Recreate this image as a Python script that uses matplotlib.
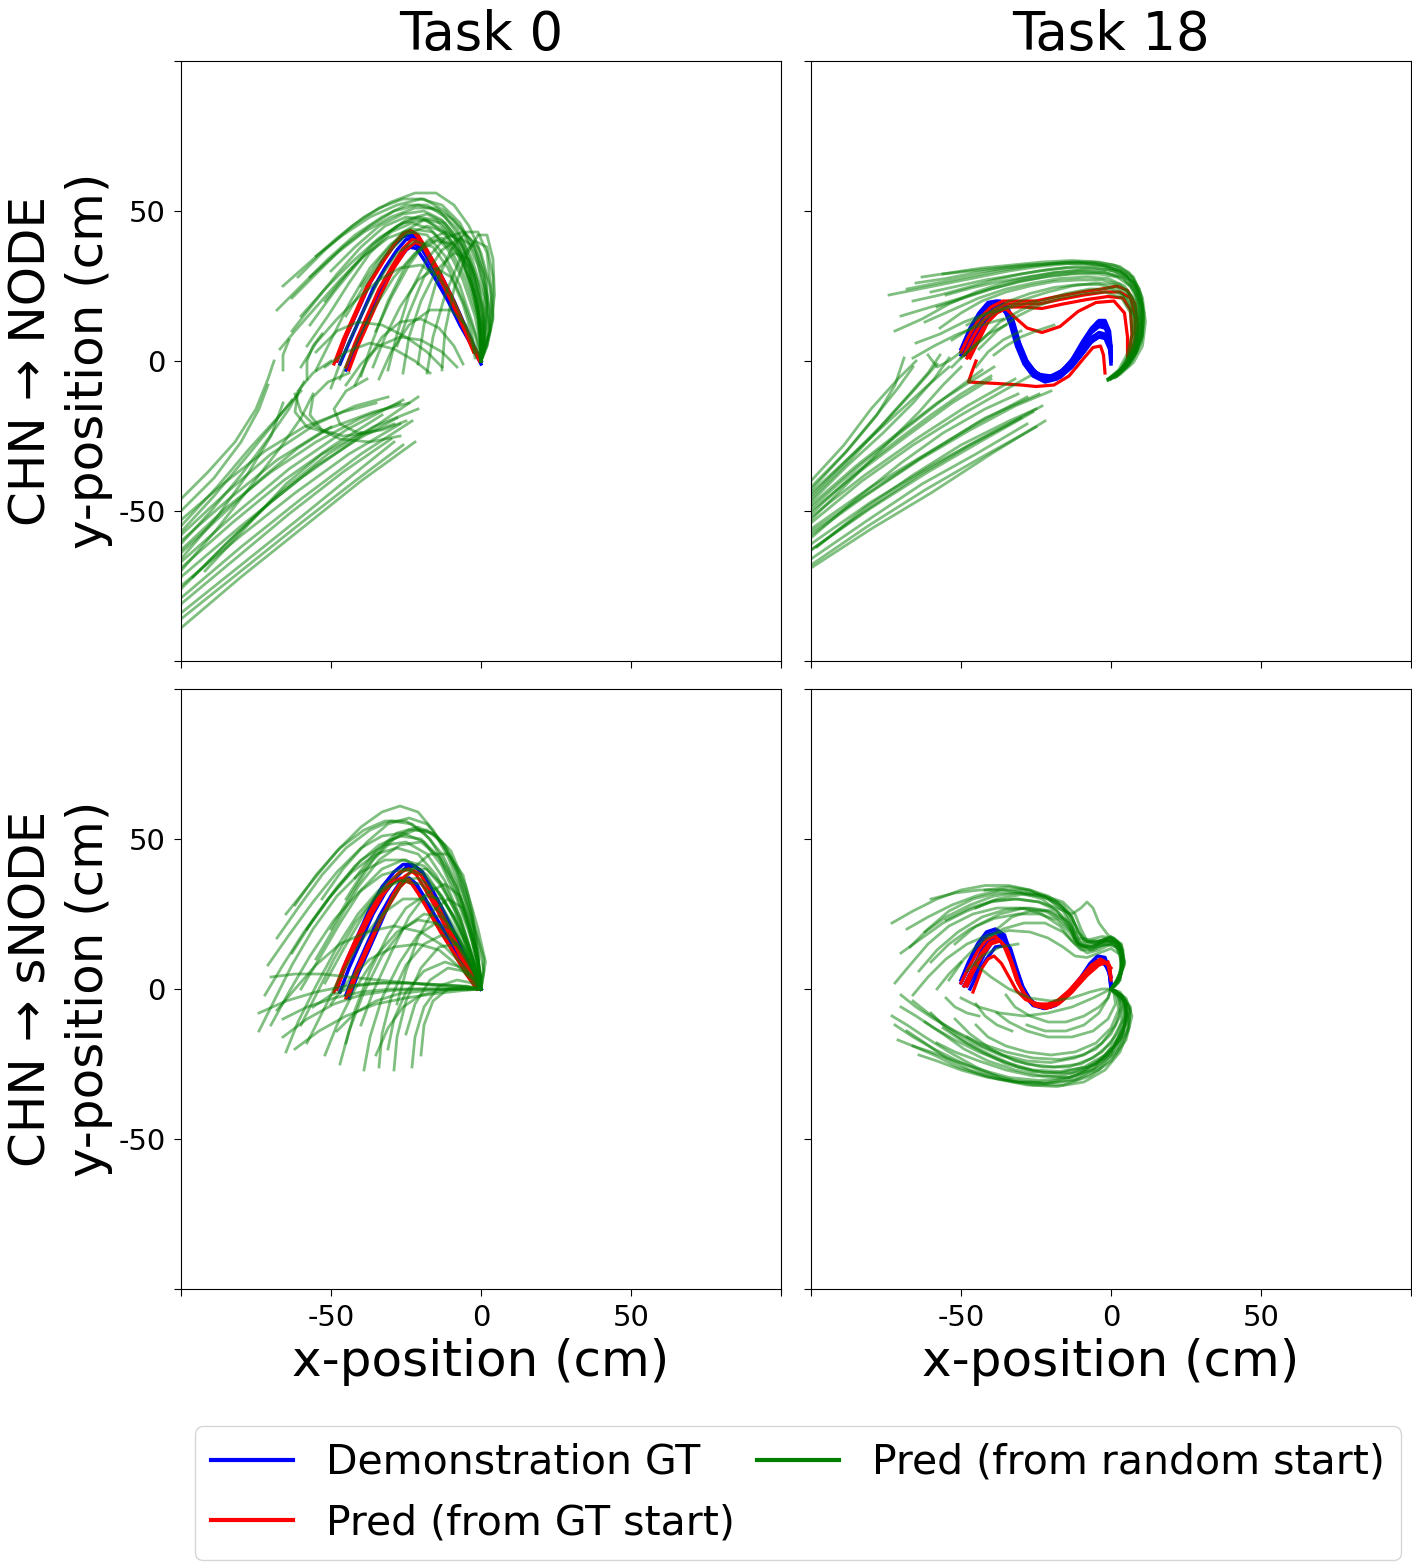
import numpy as np
import matplotlib.pyplot as plt
from matplotlib.lines import Line2D

plt.rcParams['axes.unicode_minus'] = False

# ---------------- Task 0, CHN -> NODE (top left) ----------------
tl_blue = [
    [(-47,-1),(-44,6),(-40,15),(-36,24),(-32,31),(-28,37),(-25,40.5),(-22.5,41),(-20,38.5),(-17,33),(-13,26),(-9,18),(-5,9),(-2,3),(0,0)],
    [(-45,-3),(-42,5),(-38,14),(-34,23),(-30,30),(-26.5,35.5),(-24,38),(-21.5,37.5),(-18.5,33),(-15,27),(-11,20),(-7,12),(-3,5),(0,-1)],
    [(-48,0),(-45,8),(-41,17),(-37,26),(-33,33),(-29,38.5),(-26,41.5),(-23,42),(-20,40),(-17,35),(-13,28),(-9,20),(-5,11),(-2,4),(0,0)],
    [(-44,-2),(-41,6),(-37,15),(-33,24),(-29,31.5),(-25,37),(-22,39),(-19.5,37),(-16.5,32),(-12.5,25),(-8.5,17),(-4.5,9),(-1.5,3),(0,0)],
]
tl_red = [
    [(-49,-1),(-46,7),(-42,16),(-38,25),(-33,33),(-29,39),(-26,42.5),(-23.5,43.5),(-21,42),(-18,37),(-14,30),(-10,22),(-6,13),(-3,6),(-1,1)],
    [(-44,-3),(-41,5),(-37,14),(-33,23),(-29,31),(-25,37),(-22,39.5),(-19.5,38.5),(-16.5,33),(-13,26),(-9,18),(-5,10),(-2,4),(0,0)],
    [(-48,0),(-45,8),(-41,17),(-37,26),(-32,34),(-28,40),(-25,43),(-22.5,43),(-20,40),(-16.5,33.5),(-12.5,26),(-8.5,17),(-5,9),(-2.5,3)],
    [(-45,-2),(-42,6),(-38,15),(-34,24),(-30,31),(-26,37.5),(-23,40.5),(-20.5,40),(-17.5,35.5),(-14,28.5),(-10,20.5),(-6,12),(-3,5),(-0.5,0)],
]
tl_green = [
    [(-66,25),(-57,33),(-48,41),(-39,48),(-30,53),(-22,56),(-15,56),(-9,52),(-4,45),(0,36),(3,25),(4,14),(2,5),(0,0)],
    [(-68,17),(-60,25),(-51,34),(-42,42),(-33,48),(-25,52),(-18,52),(-12,48),(-6,40),(-2,29),(1,17),(1,7),(0,0)],
    [(-63,21),(-55,29),(-46,38),(-37,45),(-29,50),(-21,52),(-14,50),(-8,44),(-3,34),(1,21),(1,9),(0,0)],
    [(-63,10),(-56,19),(-48,29),(-40,38),(-32,45),(-25,48),(-18,47),(-12,42),(-6,33),(-2,21),(0,9),(0,0)],
    [(-58,5),(-51,15),(-44,26),(-37,36),(-30,43),(-23,46),(-17,44),(-11,37),(-6,27),(-2,15),(0,5),(0,0)],
    [(-55,-3),(-50,7),(-44,19),(-37,31),(-30,39),(-24,43),(-18,42),(-12,35),(-7,25),(-3,13),(0,3)],
    [(-50,-9),(-46,2),(-40,15),(-34,27),(-28,36),(-22,40),(-16,38),(-11,31),(-6,20),(-2,9),(0,0)],
    [(-40,-5),(-36,7),(-31,20),(-25,32),(-19,39),(-13,41),(-8,36),(-4,27),(-1,15),(0,5),(0,0)],
    [(-31,-3),(-28,9),(-24,22),(-18,34),(-12,41),(-6,43),(-1,38),(2,27),(2,14),(1,5),(0,0)],
    [(-21,-1),(-19,12),(-15,26),(-10,37),(-5,43),(-1,43),(2,36),(3.5,22),(2.5,9),(0,0)],
    [(-13,-3),(-12,10),(-9,24),(-5,35),(-1,42),(2,42),(4,34),(4.5,22),(3,10),(0,0)],
    [(-57,12),(-49,23),(-40,34),(-32,42),(-25,47),(-18,49),(-12,46),(-6,38),(-2,27),(0,14),(0,0)],
    [(-61,28),(-52,37),(-43,45),(-34,51),(-26,54),(-19,54),(-12,50),(-6,43),(-1,32),(2,19),(1,7),(0,0)],
    [(-47,-6),(-42,5),(-36,17),(-29,28),(-22,36),(-15,40),(-9,39),(-4,31),(-1,18),(0,6)],
    [(-60,-2),(-55,6),(-48,14),(-41,21),(-34,27),(-27,31),(-20,32),(-14,28),(-9,20),(-5,11),(-2,3)],
    [(-55,3),(-48,10),(-41,13),(-33,12),(-25,8),(-18,3),(-13,-2)],
    [(-52,-2),(-45,3),(-37,6),(-29,4),(-22,0),(-17,-4)],
    [(-45,-8),(-40,-1),(-34,5),(-27,8),(-20,7),(-13,3),(-8,-2)],
    [(-36,-2),(-32,8),(-27,18),(-21,27),(-15,31),(-10,28),(-6,19),(-3,9),(-2,1)],
    [(-26,-4),(-24,8),(-20,20),(-15,30),(-9,36),(-4,34),(-1,26),(1,14),(0,4)],
    [(-67,4),(-62,10),(-55,18),(-47,27),(-39,35),(-31,41),(-23,44),(-16,43),(-10,37),(-5,27),(-1,14),(0,0)],
    [(-57,28),(-48,36),(-39,43),(-30,48),(-22,51),(-15,51),(-9,47),(-3,40),(1,29),(3,16),(2,6),(0,0)],
    [(-34,-6),(-30,3),(-24,12),(-17,17),(-10,17),(-5,12),(-2,5),(0,0)],
    [(-66,-3),(-66,2),(-64,7)],
    [(-58,-6),(-58,0),(-56,5),(-53,9)],
    [(-50,30),(-42,38),(-34,45),(-26,49),(-19,50),(-13,47),(-7,40),(-3,30),(0,18),(1,7),(0,0)],
    [(-45,15),(-39,25),(-32,35),(-25,42),(-18,45),(-12,43),(-7,36),(-3,25),(0,12),(0,0)],
    [(-40,25),(-33,35),(-26,43),(-19,47),(-13,46),(-8,40),(-4,30),(-1,18),(0,6),(0,0)],
    [(-52,20),(-44,30),(-36,39),(-28,45),(-21,48),(-15,47),(-9,41),(-4,31),(-1,19),(0,7),(0,0)],
    [(-35,10),(-30,21),(-24,32),(-18,40),(-12,43),(-7,40),(-3,31),(0,19),(1,8),(0,0)],
    [(-60,15),(-52,24),(-43,33),(-34,41),(-26,46),(-19,47),(-13,44),(-7,36),(-3,25),(0,12),(0,0)],
    [(-28,5),(-24,16),(-19,28),(-13,37),(-7,41),(-2,38),(1,28),(2,15),(1,5),(0,0)],
    [(-55,35),(-46,42),(-37,48),(-28,52),(-20,54),(-13,52),(-7,46),(-2,36),(2,22),(3,10),(0,0)],
    [(-18,-4),(-16,8),(-12,22),(-7,34),(-2,40),(2,38),(4,28),(4,15),(2,5),(0,0)],
    [(-42,-8),(-38,0),(-33,8),(-27,13),(-20,14),(-14,11),(-9,5),(-6,-1)],
    # lower-left fan
    [(-100,-89),(-80,-72),(-60,-56),(-40,-40),(-22,-27)],
    [(-100,-84),(-80,-68),(-60,-52),(-44,-39),(-29,-27)],
    [(-100,-79),(-80,-62),(-60,-46),(-40,-31),(-23,-20)],
    [(-100,-72),(-80,-55),(-60,-39),(-40,-25),(-21,-12)],
    [(-100,-67),(-82,-51),(-64,-36),(-45,-23),(-26,-13)],
    [(-100,-63),(-85,-49),(-70,-37),(-55,-27),(-40,-19),(-27,-14)],
    [(-100,-58),(-85,-44),(-70,-31),(-55,-21),(-42,-15),(-31,-12)],
    [(-100,-55),(-88,-42),(-77,-29),(-67,-18),(-60,-10)],
    [(-100,-50),(-89,-39),(-80,-27),(-74,-16),(-71,-8)],
    [(-100,-46),(-91,-37),(-82,-27),(-75,-16),(-71,-6),(-69,0)],
    [(-100,-70),(-88,-56),(-77,-42),(-67,-29),(-60,-19),(-56,-11)],
    [(-100,-61),(-90,-50),(-80,-38),(-71,-26),(-64,-16),(-59,-7)],
    [(-96,-72),(-81,-57),(-66,-43),(-51,-31),(-36,-22),(-21,-16)],
    [(-100,-76),(-85,-61),(-70,-47),(-55,-35),(-41,-26),(-28,-19)],
    [(-92,-70),(-78,-55),(-65,-41),(-53,-31),(-40,-24)],
    [(-100,-53),(-86,-41),(-72,-30),(-59,-22),(-46,-17),(-35,-14)],
    [(-100,-66),(-88,-52),(-78,-38),(-70,-25),(-66,-14)],
    [(-100,-60),(-84,-46),(-68,-33),(-52,-23),(-36,-17),(-24,-14)],
    [(-100,-86),(-80,-70),(-60,-54),(-42,-40),(-26,-28)],
    [(-100,-81),(-82,-66),(-64,-51),(-46,-37),(-30,-26)],
    [(-100,-75),(-81,-59),(-62,-44),(-44,-31),(-27,-21)],
    [(-100,-69),(-83,-54),(-66,-40),(-49,-28),(-33,-18)],
    [(-100,-64),(-86,-51),(-73,-39),(-61,-29),(-50,-22)],
    [(-100,-57),(-89,-45),(-79,-33),(-70,-22),(-63,-13)],
    [(-44,-4),(-51,-7),(-56,-12),(-57,-18),(-53,-23),(-46,-25),(-37,-24),(-29,-21)],
    [(-38,-6),(-45,-10),(-49,-16),(-47,-21),(-41,-24),(-33,-23),(-25,-20)],
    [(-50,0),(-56,-4),(-61,-10),(-62,-17),(-58,-22),(-51,-24)],
    [(-62,-11),(-60,-17),(-55,-22),(-47,-26),(-37,-27),(-27,-25)],
]

# ---------------- Task 18, CHN -> NODE (top right) ----------------
tr_blue = [
    [(-50,3),(-47,9),(-44,14),(-41,18),(-38,19.5),(-35.5,18),(-33.5,13),(-31.5,6),(-29,0),(-26,-4),(-22,-6),(-18,-5),(-14,-1),(-10,5),(-7,10),(-4.5,13),(-2.5,13),(-1,10),(0,4),(0,0)],
    [(-49,3),(-46,10),(-43,15),(-40,19),(-37,19.5),(-34.5,17),(-32.5,11),(-30.5,4),(-28,-1.5),(-25,-5),(-21,-6.5),(-17,-5),(-13,-0.5),(-9.5,5),(-6.5,9.5),(-4,11.5),(-2,11),(-0.5,8),(0,3)],
    [(-48,2),(-45,8),(-42,13.5),(-39,17),(-36.5,17.5),(-34,15),(-32,9),(-30,3),(-27,-2),(-24,-4.5),(-20,-5),(-16,-3),(-12,1.5),(-8.5,7),(-5.5,11),(-3,12.5),(-1.5,11),(-0.5,7),(0,1)],
    [(-50,4),(-47,11),(-44,16),(-41,19.5),(-38,20),(-35,18.5),(-33,14),(-31,7),(-28.5,0.5),(-25.5,-3.5),(-22,-5.5),(-18,-4.5),(-14,-1),(-10,3.5),(-7,7.5),(-4,9.5),(-2,9),(-0.5,6),(0,1)],
    [(-49,2),(-46,7),(-43,12),(-40,16.5),(-37,18),(-34.5,16.5),(-32.5,12),(-30.5,5),(-28,-0.5),(-25,-4.5),(-21,-6),(-17,-5.5),(-13,-2),(-9,3),(-6,7),(-3.5,8.5),(-1.5,8),(0,5),(0,0)],
    [(-50,2),(-47,8),(-44,13),(-41,17),(-38,18.5),(-35.5,17),(-33.5,12),(-31.5,5),(-29,-1),(-26,-5),(-22,-7),(-18,-6),(-14,-2.5),(-10,2),(-7,6),(-4,8),(-2,7.5),(-0.5,4),(0,-1)],
    [(-49,4),(-46,11),(-43,16.5),(-40,19.5),(-37,20),(-34.5,18),(-32.5,13),(-30.5,6),(-28,0),(-25,-4),(-21,-5.5),(-17,-4),(-13,0.5),(-9.5,6.5),(-6.5,11),(-4,13.5),(-2,13.5),(-0.5,10),(0,5)],
]
tr_red = [
    [(-50,3),(-47,9),(-44,14),(-40,18),(-36,20),(-31,20),(-25,20),(-18,21.5),(-10,23),(-3,24),(2,25),(5.5,23.5),(8,19),(9,12),(8.5,5),(7,1)],
    [(-49,2),(-46,8),(-43,13),(-39,17),(-35,19),(-30,19),(-24,19),(-17,20.5),(-9,22),(-2,23),(3,23),(6.5,21),(8,15),(8,7),(6.5,1)],
    [(-48,1),(-45,7),(-42,12),(-38,16),(-34,18),(-29,18),(-23,17.5),(-16,19),(-8,20.5),(-1,21.5),(4,21),(6.5,17),(7,9),(6,2)],
    [(-47,1),(-44,7),(-41,13),(-38,17),(-35,17.5),(-32,14.5),(-28,11),(-23,9.5),(-17,11.5),(-11,16.5),(-5,19.5),(1,20),(4.5,16),(5.5,8),(5.5,1)],
    [(-45,0),(-46.5,-4),(-47.5,-7),(-38,-7.5),(-30,-8),(-25,-8.5),(-19,-8),(-14,-5),(-9,1),(-6,4.5),(-3.5,5),(-2.5,2),(-2,-4)],
]
tr_green = [
    [(-74,22),(-64,24),(-54,26),(-44,28),(-34,30),(-24,31.5),(-14,32.5),(-5,32.5),(2,31),(7,28),(10,22),(11,14),(10,6),(7,0),(3,-4),(-1,-6)],
    [(-65,26),(-55,27.5),(-45,29.5),(-35,31),(-25,32),(-15,33),(-6,33),(1,32),(6,29.5),(9.5,24),(11,16),(10.5,8),(8,2),(4,-3),(0,-6)],
    [(-56,29),(-47,30),(-38,31),(-29,32),(-20,32.5),(-11,33),(-3,32),(3,30),(7.5,26),(10,19),(10,11),(8.5,4),(5,-2),(1,-5.5)],
    [(-70,15),(-60,18),(-50,21),(-40,24),(-30,26.5),(-20,28.5),(-10,29.5),(-2,29.5),(4,27.5),(8,23),(9.5,16),(9,8),(7,2),(3,-3),(-1,-6)],
    [(-62,13),(-53,17),(-44,21),(-35,24),(-26,26),(-17,27.5),(-8,28),(-1,27.5),(4.5,25),(8,20),(9,12),(8,5),(5,-1),(1,-5)],
    [(-53,7),(-45,12),(-37,17),(-29,20.5),(-21,23),(-13,25),(-5,26),(1,25.5),(5.5,22.5),(8,17),(8.5,9),(7,3),(4,-2),(0,-5.5)],
    [(-50,1),(-43,7),(-37,13),(-30,17),(-23,20),(-15,22.5),(-7,24),(0,24),(5,21),(7.5,15),(7.5,8),(6,2),(3,-3),(-0.5,-6)],
    [(-72,10),(-63,14),(-54,19),(-45,23),(-36,26),(-27,28),(-18,29.5),(-9,30.5),(-1,30.5),(5,28.5),(9,23.5),(10.5,16),(10,8),(7.5,1.5),(3.5,-3.5),(-1,-6.5)],
    [(-66,20),(-57,22),(-48,24.5),(-39,27),(-30,29),(-21,30.5),(-12,31.5),(-3,31.5),(3,30),(8,26),(10.5,19),(10.5,11),(9,4),(6,-1.5),(1.5,-5.5)],
    [(-60,23),(-51,25),(-42,27),(-33,28.5),(-24,30),(-15,31),(-6,31),(1,30),(6,27),(9,21),(10,13),(9,5),(6,-0.5),(2,-5)],
    [(-57,11),(-50,16),(-43,20),(-35,23),(-27,25),(-19,26.5),(-11,27),(-3,27),(3,25.5),(7,21.5),(9,14.5),(8.5,6.5),(6,0.5),(2,-4.5)],
    [(-44,4),(-38,10),(-31,15),(-24,18.5),(-17,21),(-9,22.5),(-2,23),(3.5,21),(6.5,16),(7,9),(5.5,2.5),(2.5,-3),(-1,-6)],
    [(-68,24),(-58,26),(-48,28),(-38,30),(-28,31.5),(-18,32.5),(-9,32.5),(-1,31.5),(5,29),(8.5,24.5),(10.5,17),(10.5,9),(8.5,3),(5,-2),(0,-6)],
    [(-58,18),(-49,21),(-40,24),(-31,26.5),(-22,28),(-13,29),(-4,29),(2,28),(6.5,25),(9,19.5),(9.5,12),(8.5,5),(6,-0.5),(2,-5)],
    [(-48,12),(-41,16),(-34,20),(-27,22.5),(-19,24.5),(-11,25.5),(-4,25.5),(2,24),(6,20),(8,14),(8,7),(6,1.5),(3,-3.5),(-1,-6)],
    [(-63,28),(-53,29.5),(-43,31),(-33,32),(-23,33),(-13,33.5),(-4,33),(3,31.5),(7.5,28),(10.5,21),(11.5,13),(10.5,5),(7.5,-0.5),(3,-4.5),(-1,-6.5)],
    [(-55,22),(-46,24.5),(-37,26.5),(-28,28),(-19,29.5),(-10,30),(-2,29.5),(4,28),(8,24),(10,17.5),(10,10),(8.5,3),(5,-2),(1,-5.5)],
    [(-53,-2),(-47,4),(-41,9),(-35,12)],
    [(-66,1),(-59,5),(-51,9),(-43,12),(-36,14)],
    [(-65,6),(-57,9),(-49,13),(-41,16),(-33,18),(-25,20)],
    [(-45,-2),(-41,3),(-36,7),(-30,10)],
    [(-61,2),(-58,-2),(-54,0),(-50,3)],
    [(-39,2),(-35,5),(-30,8),(-25,10),(-19,12)],
    # lower-left fan
    [(-100,-69),(-80,-56),(-60,-44),(-40,-31),(-22,-20)],
    [(-100,-66),(-81,-53),(-63,-41),(-45,-31),(-28,-21)],
    [(-100,-61),(-80,-47),(-60,-35),(-40,-24),(-23,-15)],
    [(-100,-56),(-80,-42),(-60,-30),(-42,-19),(-24,-11)],
    [(-100,-52),(-82,-38),(-65,-26),(-48,-15),(-32,-6)],
    [(-100,-49),(-84,-35),(-69,-23),(-55,-12),(-43,-3)],
    [(-100,-46),(-87,-33),(-75,-20),(-65,-9),(-58,-1)],
    [(-100,-42),(-88,-30),(-78,-18),(-72,-8),(-69,1)],
    [(-100,-40),(-89,-28),(-80,-16),(-71,-6),(-65,0)],
    [(-100,-44),(-86,-31),(-73,-19),(-62,-9),(-54,-2)],
    [(-100,-48),(-85,-35),(-71,-24),(-58,-14),(-47,-7),(-39,-2)],
    [(-100,-54),(-83,-40),(-66,-28),(-50,-18),(-36,-10),(-27,-5)],
    [(-100,-58),(-82,-45),(-64,-33),(-47,-23),(-32,-15),(-20,-10)],
    [(-100,-63),(-82,-50),(-64,-38),(-47,-28),(-30,-19)],
    [(-100,-51),(-86,-38),(-72,-27),(-60,-18),(-50,-11),(-40,-5)],
    [(-100,-45),(-88,-33),(-77,-22),(-68,-12),(-61,-4),(-57,2)],
    [(-100,-53),(-87,-40),(-75,-28),(-64,-17),(-56,-8),(-50,-2)],
    [(-100,-59),(-85,-46),(-70,-34),(-56,-24),(-42,-16),(-31,-11)],
    [(-98,-62),(-82,-49),(-66,-38),(-50,-28),(-34,-20),(-25,-16)],
    [(-100,-47),(-88,-35),(-76,-24),(-66,-14),(-59,-6),(-54,1)],
    [(-100,-68),(-81,-55),(-62,-43),(-43,-32),(-25,-22)],
    [(-100,-63),(-80,-49),(-61,-37),(-42,-26),(-26,-17)],
    [(-100,-57),(-81,-44),(-63,-32),(-45,-21),(-28,-12)],
    [(-100,-50),(-84,-37),(-68,-25),(-53,-14),(-40,-6)],
    [(-100,-43),(-89,-31),(-79,-19),(-71,-9),(-66,-2)],
]

# ---------------- Task 0, CHN -> sNODE (bottom left) ----------------
bl_blue = [
    [(-47,-1),(-44,7),(-40,16),(-36,25),(-32,32),(-28,37.5),(-25,40.5),(-22,41),(-19.5,39),(-16.5,33.5),(-13,27),(-9,19),(-5,10),(-2,4),(0,0)],
    [(-44,-3),(-41,5),(-37,14),(-33,23),(-30,30),(-27,35),(-25,37),(-23,36),(-20,31),(-16,25),(-12,18),(-8,11),(-4,5),(0,0)],
    [(-48,0),(-45,9),(-41,18),(-37,27),(-33,34),(-29,39),(-26,41.5),(-23,41.5),(-20.5,39.5),(-17.5,34),(-14,27.5),(-10,20),(-6,11),(-2.5,4),(0,0)],
    [(-45,-2),(-42,6),(-38,15),(-34,24),(-30,31),(-27,35.5),(-24,37),(-21.5,35),(-18.5,30),(-14.5,23),(-10,16),(-6,9),(-2,3),(0,0)],
]
bl_red = [
    [(-49,-1),(-46,7),(-42,16),(-38,24),(-34,31),(-30,36),(-27,39),(-24,40),(-21.5,38),(-18.5,33),(-15,27),(-11,19),(-7,11),(-3,4),(0,0)],
    [(-45,-3),(-42,5),(-38,14),(-34,22),(-30,29),(-27,34),(-25,36),(-23,35),(-20,30.5),(-16.5,24.5),(-12,17),(-8,10),(-4,4),(-1,0)],
    [(-48,0),(-45,8),(-41,16),(-37,24),(-33,31),(-29.5,35.5),(-26.5,37),(-24,36.5),(-21,32),(-17.5,26),(-13.5,19),(-9,12),(-5,5),(-1.5,0)],
    [(-44,-2),(-41,6),(-37,15),(-33,24),(-29,32),(-25.5,37.5),(-22.5,39.5),(-20,38),(-17,32.5),(-13.5,26),(-9.5,18),(-5.5,10),(-2,3)],
]
bl_green = [
    [(-65,25),(-57,35),(-48,46),(-40,54),(-33,59),(-27,61),(-21,59),(-16,53),(-11,44),(-6,32),(-2,20),(1,10),(0,0)],
    [(-68,17),(-61,27),(-53,38),(-45,47),(-37,53),(-30,56),(-23,55),(-17,50),(-11,40),(-6,28),(-2,15),(0,4)],
    [(-71,8),(-64,18),(-56,29),(-48,39),(-40,47),(-33,51),(-26,52),(-19,49),(-13,41),(-8,30),(-3,16),(0,4)],
    [(-72,-2),(-66,8),(-59,19),(-51,30),(-43,39),(-35,45),(-28,47),(-21,45),(-15,38),(-9,27),(-4,14),(0,2)],
    [(-74,-14),(-69,-4),(-63,8),(-56,20),(-48,31),(-40,39),(-32,43),(-25,43),(-18,38),(-12,29),(-6,17),(-2,6),(0,0)],
    [(-65,-21),(-61,-11),(-55,1),(-48,14),(-41,25),(-34,33),(-27,36),(-20,35),(-14,29),(-8,19),(-3,8),(0,1)],
    [(-60,-12),(-55,-2),(-49,10),(-42,22),(-35,31),(-28,36),(-21,37),(-15,33),(-9,24),(-4,13),(0,3)],
    [(-55,10),(-48,22),(-41,34),(-34,43),(-27,48),(-20,49),(-14,44),(-8,34),(-4,20),(-1,8),(0,0)],
    [(-50,20),(-43,32),(-36,43),(-29,50),(-22,53),(-16,52),(-10,46),(-5,34),(-1,20),(1.5,9),(0,0)],
    [(-45,-18),(-42,-7),(-37,6),(-31,18),(-25,27),(-19,31),(-13,30),(-8,23),(-4,13),(-1,4)],
    [(-39,-27),(-37,-16),(-33,-3),(-27,9),(-21,18),(-15,22),(-10,20),(-5,13),(-2,5),(0,0)],
    [(-29,-27),(-28,-16),(-25,-4),(-20,7),(-14,14),(-8,15),(-4,10),(-1,4),(0,0)],
    [(-23,-26),(-22,-16),(-19,-6),(-14,1),(-8,3),(-3,2),(0,0)],
    [(-56,-6),(-50,-2),(-42,1),(-33,2),(-24,2),(-15,1.5),(-7,1),(0,0)],
    [(-66,-10),(-58,-6),(-49,-3),(-40,-1),(-30,0),(-20,0),(-10,0),(0,0)],
    [(-70,4),(-62,5),(-53,5),(-44,4),(-34,3),(-24,2),(-14,1),(-5,0.5),(0,0)],
    [(-48,-14),(-42,-8),(-35,-4),(-27,-1.5),(-18,-0.5),(-9,0),(0,0)],
    [(-35,-22),(-31,-13),(-26,-6),(-20,-2),(-13,-0.5),(-6,0),(0,0)],
    [(-62,28),(-55,38),(-47,47),(-39,53),(-32,56),(-25,56),(-19,52),(-13,45),(-8,35),(-4,22),(-1,9),(0,0)],
    [(-58,-18),(-53,-8),(-47,4),(-40,16),(-33,25),(-26,30),(-19,30),(-13,25),(-7,16),(-3,7),(0,0)],
    [(-52,-22),(-48,-12),(-42,0),(-35,11),(-28,19),(-21,23),(-15,22),(-9,16),(-4,8),(0,1)],
    [(-40,-12),(-36,-1),(-30,12),(-24,24),(-18,32),(-12,35),(-7,31),(-3,21),(-1,10),(0,2)],
    [(-45,30),(-38,41),(-31,49),(-24,53),(-18,53),(-12,48),(-7,38),(-3,24),(-1,11),(0,0)],
    [(-35,20),(-29,31),(-23,40),(-17,45),(-11,45),(-6,38),(-3,26),(-1,12),(0,0)],
    [(-28,-5),(-25,6),(-21,17),(-16,26),(-11,30),(-6,27),(-3,18),(-1,8),(0,0)],
    [(-60,0),(-54,10),(-47,22),(-40,33),(-33,40),(-26,43),(-19,41),(-13,34),(-7,23),(-3,11),(0,2)],
    [(-62,-20),(-54,-14),(-45,-9),(-35,-5),(-25,-3),(-15,-1.5),(-6,-0.5),(0,0)],
    [(-68,-7),(-62,0),(-55,8),(-47,15),(-38,19),(-29,21),(-20,19),(-12,14),(-6,8),(-2,3),(0,0)],
    [(-50,-5),(-44,3),(-37,10),(-29,14),(-21,15),(-14,13),(-8,8),(-3,3),(0,0)],
    [(-31,-20),(-29,-10),(-25,-1),(-19,6),(-12,9),(-6,7),(-2,3),(0,0)],
    [(-42,37),(-35,46),(-28,52),(-21,54),(-15,51),(-10,44),(-5,32),(-1,16),(1,6),(0,0)],
    [(-20,-22),(-19,-12),(-16,-4),(-11,0),(-5,1),(0,0)],
    [(-58,20),(-50,31),(-42,41),(-34,48),(-27,51),(-20,50),(-14,44),(-9,34),(-4,20),(-1,8),(0,0)],
    [(-63,12),(-56,23),(-48,34),(-40,43),(-32,48),(-25,49),(-18,45),(-12,36),(-7,24),(-3,11),(0,0)],
    [(-52,2),(-46,13),(-39,25),(-32,35),(-25,40),(-18,40),(-12,34),(-7,24),(-3,12),(0,2)],
    [(-70,-12),(-64,-1),(-57,11),(-49,23),(-41,32),(-33,38),(-26,40),(-19,38),(-13,31),(-7,20),(-3,9),(0,0)],
    [(-47,-25),(-44,-14),(-39,-1),(-33,11),(-26,20),(-19,25),(-13,24),(-8,18),(-4,10),(0,2)],
    [(-34,-26),(-33,-15),(-30,-3),(-25,8),(-19,15),(-13,18),(-8,15),(-4,9),(-1,3),(0,0)],
    [(-66,-16),(-58,-10),(-49,-5),(-40,-2),(-30,-0.5),(-20,0),(-10,0),(0,0)],
    [(-74,-8),(-65,-4),(-55,-1),(-45,1),(-35,2),(-25,2),(-15,1.5),(-6,1),(0,0)],
    [(-25,-15),(-22,-5),(-17,3),(-11,7),(-6,6),(-2,3),(0,0)],
    [(-53,30),(-46,40),(-38,49),(-31,55),(-24,57),(-18,55),(-13,49),(-8,39),(-4,25),(-1,11),(0,0)],
]

# ---------------- Task 18, CHN -> sNODE (bottom right) ----------------
br_blue = [
    [(-50,2),(-47,8),(-44,14),(-41,18),(-38,19),(-35.5,16.5),(-33,10),(-31,3),(-29,-2),(-26,-5.5),(-22,-6.5),(-18,-5),(-14,-1),(-10,4),(-7,8.5),(-4.5,11),(-2,10.5),(-0.5,6),(0,0)],
    [(-49,1),(-46,7),(-43,13),(-40,17),(-37,18),(-34.5,15),(-32.5,9),(-30.5,2.5),(-28,-2.5),(-25,-5.5),(-21,-6),(-17,-4),(-13,0),(-9.5,4.5),(-6.5,8),(-4,9.5),(-1.5,9),(0,4)],
    [(-48,1),(-45,6),(-42,12),(-39,16.5),(-36,17),(-33.5,13.5),(-31.5,7),(-29.5,1),(-27,-3.5),(-24,-6),(-20,-6),(-16,-3.5),(-12,0.5),(-8.5,5),(-5.5,8),(-3,9),(-1,7),(0,2)],
    [(-50,3),(-47.5,9),(-44.5,15),(-41.5,19),(-38.5,20),(-35.5,18),(-33.5,12),(-31.5,5),(-29.5,-0.5),(-26.5,-4.5),(-22.5,-6.5),(-18.5,-5.5),(-14.5,-2),(-10.5,3),(-7.5,7),(-5,9.5),(-2.5,9.5),(-0.5,5),(0,0)],
    [(-47,0),(-44.5,5),(-41.5,10),(-38.5,14),(-35.5,14.5),(-33,11),(-31,5),(-29,-0.5),(-26.5,-4),(-23.5,-6),(-19.5,-5.5),(-15.5,-3),(-11.5,1),(-8,5.5),(-5,8.5),(-2.5,9.5),(-0.5,7),(0,1)],
]
br_red = [
    [(-50,2),(-47.5,7),(-44.5,12.5),(-41.5,16.5),(-38.5,17.5),(-36,15),(-33.5,9),(-31.5,3),(-29,-1.5),(-26,-4.5),(-22,-5.5),(-18,-4),(-14,-0.5),(-10,4),(-6.5,8),(-3.5,10),(-1,8),(0,3)],
    [(-48,1),(-46,5.5),(-43,11),(-40,15),(-37,16),(-34.5,13),(-32.5,7.5),(-30.5,1.5),(-28,-3),(-25,-5.5),(-21,-6),(-17,-4.5),(-13,-1),(-9,3.5),(-5.5,7.5),(-2.5,9.5),(0,7)],
    [(-46,-1),(-44.5,3),(-43,7),(-41,10),(-39,11),(-36.5,8.5),(-34,4),(-31.5,-0.5),(-28.5,-3.5),(-25,-5),(-21,-5),(-17,-3.5),(-12.5,0),(-8,4.5),(-4,8),(-1,9)],
    [(-49,1),(-46.5,6),(-43.5,11.5),(-40.5,15.5),(-37.5,16.5),(-35,14),(-33,8.5),(-31,2),(-28.5,-2.5),(-25.5,-5.5),(-21.5,-6.5),(-17.5,-5),(-13.5,-1.5),(-9.5,3),(-6,7),(-3,9.5),(-0.5,8),(0,4)],
]
br_green = [
    [(-73,22),(-66,26),(-58,30),(-50,33),(-42,34.5),(-34,34.5),(-27,33),(-21,30),(-16,26),(-13,21),(-11,17),(-7,16.5),(-3,17.5),(1,17),(4,13),(4,7),(2,2),(0,0)],
    [(-67,14),(-61,20),(-54,26),(-46,30),(-38,32),(-30,32),(-23,30),(-18,26),(-14,21),(-12,16),(-9,14),(-5,15),(-1,16),(3,14),(4,8),(2,3),(0,0)],
    [(-72,2),(-67,8),(-61,15),(-54,21),(-46,25),(-38,27),(-30,27),(-23,25),(-17,21),(-13,16),(-10,13),(-6,13),(-2,15),(2,14),(3.5,9),(2.5,3),(0,0)],
    [(-60,30),(-52,32),(-44,33),(-36,33),(-28,32),(-21,30),(-16,27),(-13,22),(-12,17),(-9,15),(-4,16),(0,17.5),(3.5,15),(4.5,9),(2.5,3),(0,0)],
    [(-54,3),(-49,10),(-43,16),(-36,20),(-29,22),(-22,22),(-16,19),(-12,15),(-8,12),(-4,13),(0,15),(3,13),(3.5,7),(1.5,2),(0,0)],
    [(-64,6),(-58,13),(-51,19),(-43,24),(-35,26.5),(-27,27),(-20,26),(-15,23),(-12,19),(-10,15),(-6,14),(-2,16),(2,16),(4,11),(3,4),(0,0)],
    [(-55,23),(-47,27),(-39,29.5),(-31,30),(-24,29),(-18,27),(-13,25),(-10,27),(-8,29),(-6,27),(-4,22),(-1,18),(2,16),(4,11),(3,4),(0,0)],
    [(-66,-2),(-61,4),(-55,10),(-48,15),(-41,18),(-34,19.5),(-27,19),(-21,17),(-16,14),(-12,11),(-8,10.5),(-4,12),(0,13.5),(3,11.5),(3.5,6),(1.5,1.5),(0,0)],
    [(-45,27),(-38,30),(-30,31.5),(-22,31),(-16,29),(-12,25),(-10,20),(-8,16),(-4,16),(0,17),(3,15),(4,10),(3,4),(0,0)],
    [(-38,20),(-33,24),(-27,26),(-21,26),(-16,23),(-13,19),(-11,15),(-7,14),(-3,15.5),(1,16),(3.5,12),(3.5,6),(1.5,1),(0,0)],
    [(-70,12),(-63,17),(-56,22),(-48,26),(-40,29),(-32,30),(-24,29),(-18,26),(-14,22),(-12,17),(-10,14),(-6,14),(-2,16),(2,15.5),(4,10),(3,3),(0,0)],
    [(-52,15),(-45,21),(-37,25),(-29,27),(-22,26),(-17,23),(-13,19),(-11,15),(-7,13),(-3,14.5),(1,15),(3.5,11),(3,5),(0,0)],
    [(-62,19),(-55,24),(-47,28),(-39,31),(-31,32),(-24,31.5),(-18,29),(-14,25),(-11,20),(-9,16),(-5,15.5),(-1,17),(3,15),(4.5,9),(2.5,2),(0,0)],
    [(-68,20),(-61,24),(-53,28),(-45,31),(-37,33),(-29,33),(-22,31),(-17,28),(-13,24),(-11,19),(-8,16),(-4,16),(0,17),(3.5,14.5),(4.5,8),(2,2),(0,0)],
    [(-60,9),(-54,15),(-47,20),(-39,23.5),(-31,25),(-24,25),(-18,23),(-14,19),(-11,15),(-7,13.5),(-3,14.5),(1,15.5),(3.5,12),(3.5,5),(1,1),(0,0)],
    [(-42,33),(-34,34),(-27,33),(-21,31),(-16,28),(-13,24),(-11,19),(-9,16),(-5,15),(-1,16.5),(2.5,15.5),(4,10),(3,3),(0,0)],
    [(-48,6),(-43,11),(-37,14),(-31,15)],
    [(-58,0),(-54,5),(-50,9)],
    [(-45,8),(-40,4),(-34,0),(-27,-3),(-20,-4),(-13,-3),(-7,-1),(-3,0),(0,0)],
    [(-50,-3),(-44,-6),(-37,-8),(-29,-9),(-21,-8),(-13,-6),(-6,-3),(0,0)],
    # lower sweep
    [(-73,-9),(-68,-12),(-62,-16),(-54,-21),(-45,-26),(-36,-30),(-26,-32),(-16,-32),(-7,-29),(0,-24),(5,-17),(7,-9),(5,-3),(0,0)],
    [(-71,-17),(-66,-19),(-59,-22),(-51,-26),(-42,-29),(-32,-31),(-22,-31.5),(-12,-30),(-4,-26),(2,-20),(5.5,-13),(6,-6),(3,-1.5),(0,0)],
    [(-66,-4),(-61,-8),(-54,-13),(-46,-18),(-37,-22),(-28,-25),(-19,-26),(-10,-25),(-3,-21),(2,-15),(4.5,-9),(4,-3.5),(0,0)],
    [(-60,-8),(-55,-13),(-48,-18),(-40,-22),(-31,-26),(-22,-28),(-13,-28),(-5,-25),(1,-19),(4.5,-12),(5,-5),(2,-1),(0,0)],
    [(-52,-10),(-47,-15),(-40,-20),(-32,-24),(-23,-26),(-14,-26),(-6,-23),(0,-18),(3.5,-11),(4,-5),(1.5,-1),(0,0)],
    [(-68,-14),(-62,-18),(-55,-23),(-47,-27),(-38,-30),(-28,-32),(-18,-32.5),(-9,-31),(-2,-27),(3,-21),(6,-13),(6.5,-6),(3,-1),(0,0)],
    [(-64,-22),(-58,-24),(-50,-27),(-41,-29.5),(-31,-31),(-21,-31),(-12,-29),(-5,-25),(1,-19),(4.5,-12),(5,-5),(2,-1),(0,0)],
    [(-45,-12),(-41,-16),(-35,-19),(-28,-21),(-20,-22),(-12,-21),(-5,-18),(0,-13),(2.5,-7),(2,-2.5),(0,0)],
    [(-38,-8),(-34,-11),(-28,-14),(-21,-16),(-13,-16),(-6,-14),(-1,-10),(1.5,-5),(1,-1.5),(0,0)],
    [(-58,-18),(-52,-21),(-44,-24),(-35,-27),(-26,-29),(-17,-29),(-9,-27),(-2,-23),(3,-17),(5.5,-10),(5,-4),(1.5,-0.5),(0,0)],
    [(-62,-11),(-56,-15),(-49,-20),(-41,-24),(-32,-27),(-23,-29),(-14,-29.5),(-6,-27),(0,-22),(4,-15),(5.5,-8),(4,-2.5),(0,0)],
    [(-70,-6),(-65,-9),(-59,-13),(-52,-17),(-44,-21),(-35,-24.5),(-26,-27),(-17,-27.5),(-8,-26),(-1,-22),(3.5,-16),(5.5,-9),(4,-3),(0,0)],
    [(-72,-12),(-66,-16),(-59,-20),(-51,-24),(-42,-28),(-32,-30.5),(-22,-31.5),(-12,-30.5),(-4,-27),(2,-21),(5.5,-14),(6.5,-7),(3.5,-2),(0,0)],
    [(-66,-19),(-60,-21),(-52,-24),(-43,-27),(-34,-29.5),(-24,-30.5),(-14,-29.5),(-6,-26.5),(0,-21),(4,-14),(5.5,-7),(3,-2),(0,0)],
    [(-56,-13),(-50,-17),(-43,-21),(-35,-25),(-26,-27.5),(-17,-28),(-9,-26),(-2,-22),(2.5,-16),(5,-9),(4.5,-3.5),(0,0)],
    [(-48,-16),(-43,-19),(-36,-22),(-28,-24),(-20,-24.5),(-12,-23),(-5,-20),(0,-15),(3,-9),(3,-3),(0,0)],
    [(-70,-2),(-65,-6),(-59,-10),(-52,-14),(-44,-18),(-35,-21),(-26,-23),(-17,-23.5),(-9,-22),(-3,-18),(1.5,-12),(3.5,-6),(2,-1.5),(0,0)],
    [(-55,-3),(-52,-6),(-48,-8),(-44,-9)],
    [(-45,-5),(-42,-9),(-38,-12),(-33,-14)],
    [(-35,-2),(-32,-6),(-27,-9),(-21,-11),(-15,-11),(-9,-9),(-4,-6),(-1,-3),(0,0)],
    [(-28,-12),(-22,-14),(-15,-14),(-9,-12),(-4,-8),(-1,-3),(0,0)],
]

col_titles = ['Task 0', 'Task 18']
row_labels = ['CHN \u2192 NODE\ny-position (cm)', 'CHN \u2192 sNODE\ny-position (cm)']
tick_vals = [-100, -50, 0, 50, 100]
tick_text = ['', '-50', '0', '50', '']

panels = [
    [(tl_blue, tl_red, tl_green), (tr_blue, tr_red, tr_green)],
    [(bl_blue, bl_red, bl_green), (br_blue, br_red, br_green)],
]

W, H = 1412, 1563
fig = plt.figure(figsize=(W / 100, H / 100), dpi=100)

lefts = [181, 811]
tops = [61, 689]
size = 600

for r in range(2):
    for c in range(2):
        ax = fig.add_axes([lefts[c] / W, 1 - (tops[r] + size) / H, size / W, size / H])
        blue, red, green = panels[r][c]
        for curve in blue:
            p = np.array(curve)
            ax.plot(p[:, 0], p[:, 1], color='blue', lw=2.5)
        for curve in red:
            p = np.array(curve)
            ax.plot(p[:, 0], p[:, 1], color='red', lw=2.3)
        for curve in green:
            p = np.array(curve)
            ax.plot(p[:, 0], p[:, 1], color='green', lw=2.0, alpha=0.5)
        ax.set_xlim(-100, 100)
        ax.set_ylim(-100, 100)
        ax.set_xticks(tick_vals)
        ax.set_yticks(tick_vals)
        ax.tick_params(labelsize=21, length=5, pad=6)
        if r == 1:
            ax.set_xticklabels(tick_text)
            ax.set_xlabel('x-position (cm)', fontsize=36)
        else:
            ax.set_xticklabels([])
            ax.set_title(col_titles[c], fontsize=38, pad=0)
        if c == 0:
            ax.set_yticklabels(tick_text)
            ax.set_ylabel(row_labels[r], fontsize=36, linespacing=1.25)
        else:
            ax.set_yticklabels([])

handles = [
    Line2D([], [], color='blue', lw=3),
    Line2D([], [], color='red', lw=3),
    Line2D([], [], color='green', lw=3),
]
labels = ['Demonstration GT', 'Pred (from GT start)', 'Pred (from random start)']
fig.legend(handles, labels, loc='upper center', bbox_to_anchor=(798 / W, 1 - 1406 / H),
           ncol=2, fontsize=29.5, columnspacing=0.55)

fig.savefig('out.png', dpi=100)
